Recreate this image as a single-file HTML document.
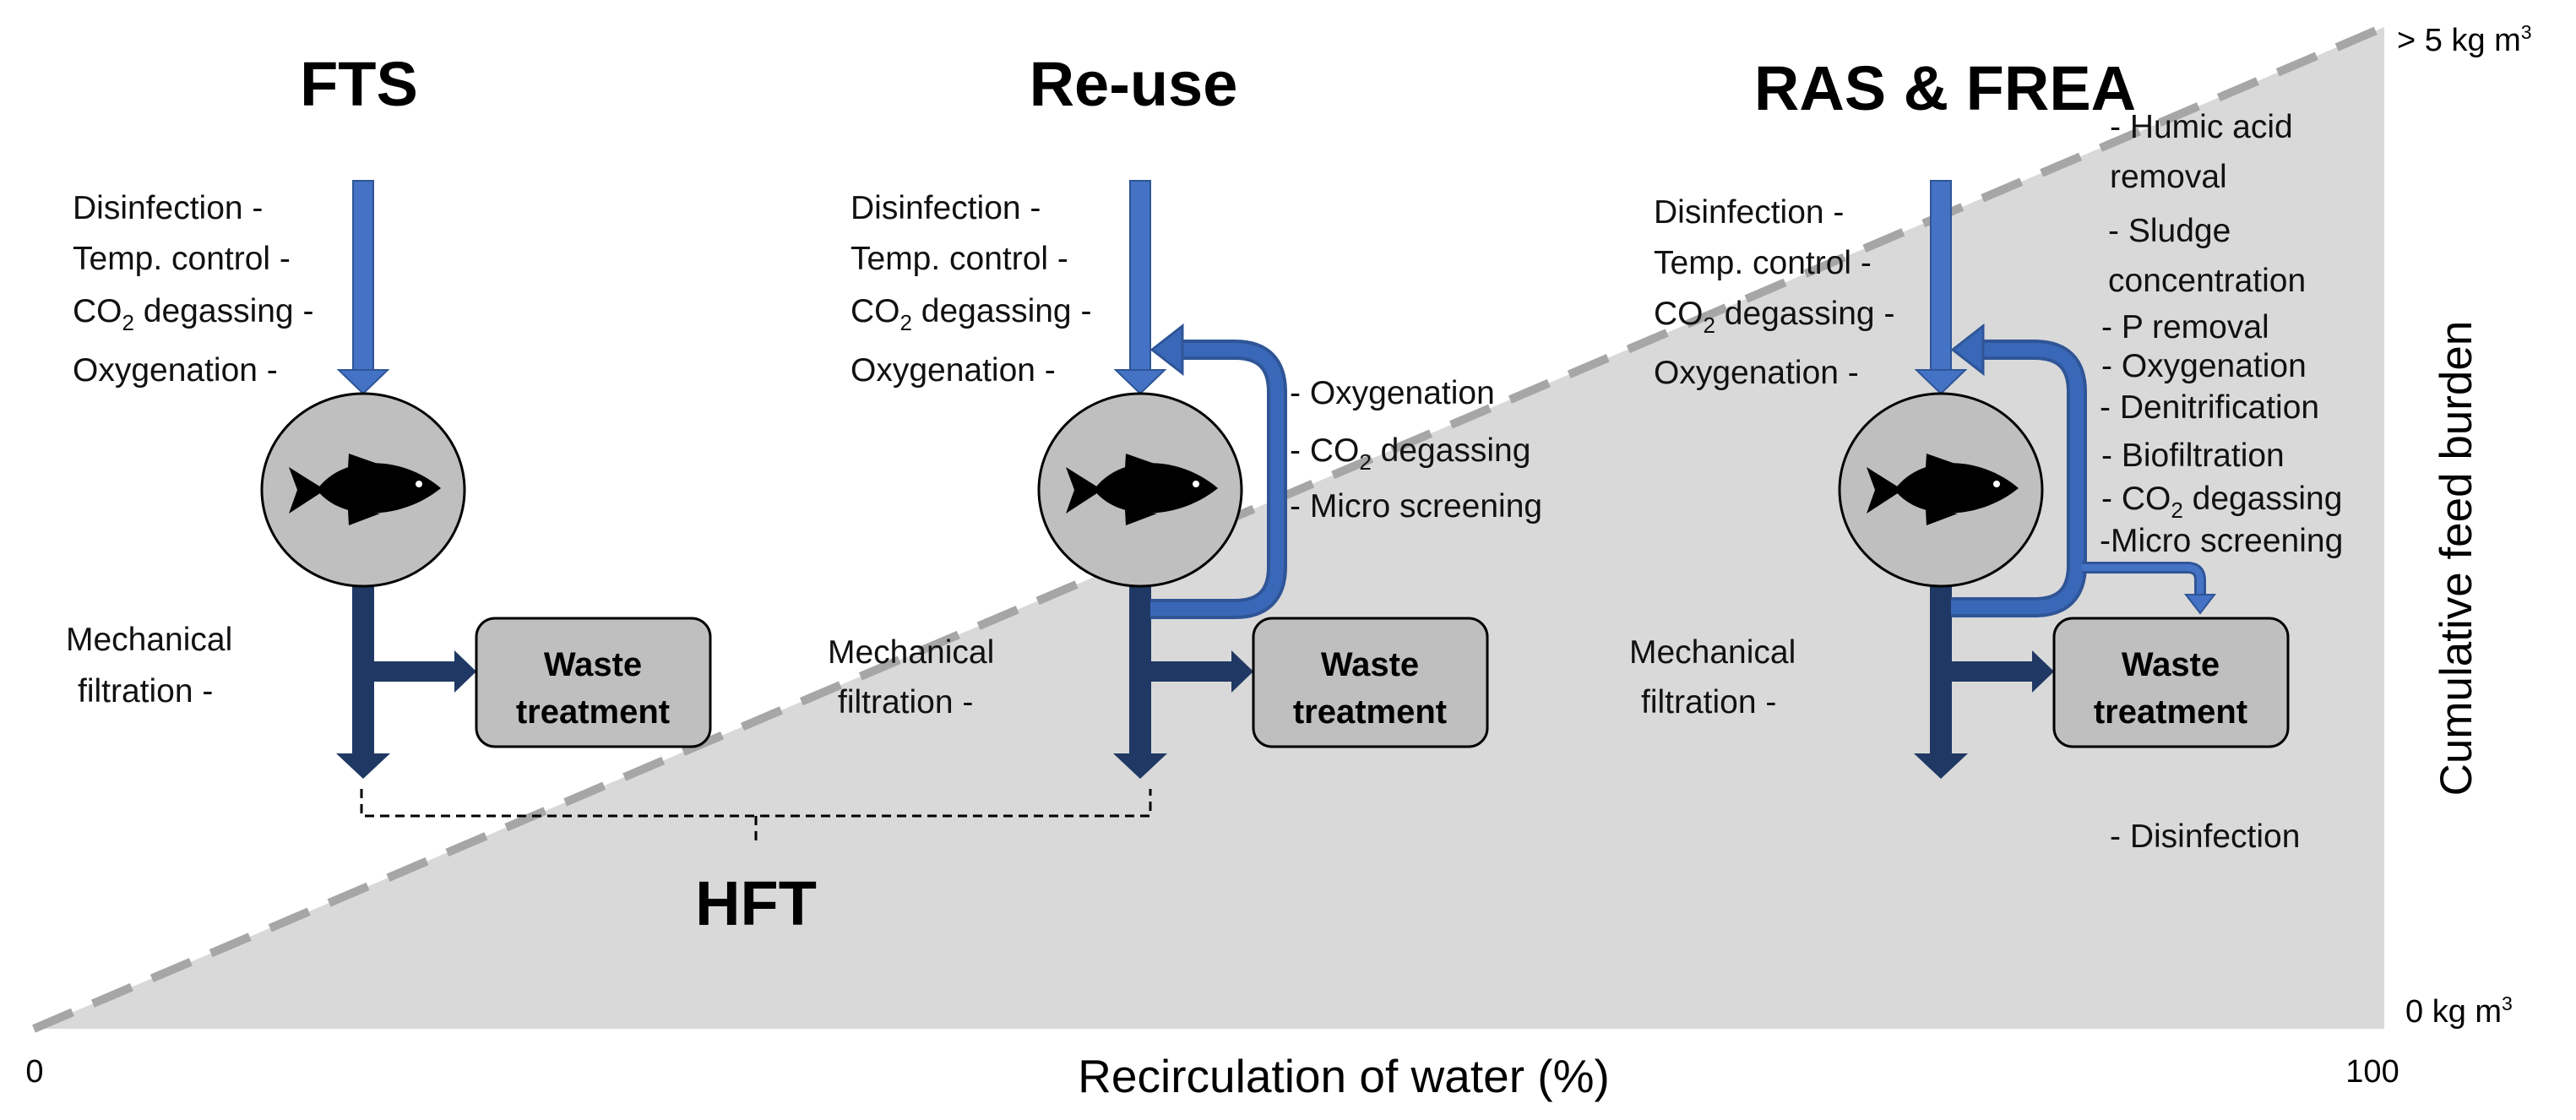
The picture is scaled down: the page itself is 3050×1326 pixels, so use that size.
<!DOCTYPE html>
<html><head><meta charset="utf-8"><style>
html,body{margin:0;padding:0;background:#fff;}
svg{display:block;font-family:"Liberation Sans",sans-serif;}
.l{font-size:39px;fill:#111;}
.t{font-size:74px;font-weight:bold;fill:#000;text-anchor:middle;}
.w{font-size:40px;font-weight:bold;fill:#000;text-anchor:middle;}
</style></head><body>
<svg width="3050" height="1326" viewBox="0 0 3050 1326" xmlns="http://www.w3.org/2000/svg">
<defs>
<g id="fish">
<path d="M-55,0 C-25,-42 45,-42 92,-2 C45,36 -25,38 -55,0 Z" fill="#000"/>
<path d="M-45,0 L-88,-27 L-78,0 L-88,28 Z" fill="#000"/>
<path d="M-18,-26 L-17,-43 L20,-30 Z" fill="#000"/>
<path d="M-18,24 L-17,42 L20,28 Z" fill="#000"/>
<circle cx="66" cy="-7" r="4" fill="#fff"/>
</g>
<g id="unit">
<rect x="-12" y="214" width="24" height="226" fill="#4472c4" stroke="#2f5597" stroke-width="2"/>
<polygon points="-29,438 29,438 0,466" fill="#4472c4" stroke="#2f5597" stroke-width="2"/>
<rect x="-13" y="690" width="26" height="204" fill="#203864"/>
<polygon points="-32,892 32,892 0,922" fill="#203864"/>
<rect x="10" y="783" width="100" height="24" fill="#203864"/>
<polygon points="108,770 108,820 134,795" fill="#203864"/>
<ellipse cx="0" cy="580" rx="120" ry="114" fill="#bfbfbf" stroke="#000" stroke-width="3"/>
<use href="#fish" x="0" y="580"/>
<rect x="134" y="732" width="277" height="152" rx="22" fill="#bfbfbf" stroke="#000" stroke-width="3"/>
<text class="w" x="272" y="800">Waste</text>
<text class="w" x="272" y="856">treatment</text>
</g>
</defs>
<polygon points="40,1218 2823,32 2823,1218" fill="#d9d9d9"/>
<line x1="40" y1="1218" x2="2823" y2="32" stroke="#a6a6a6" stroke-width="10" stroke-dasharray="50,26"/>

<text class="t" x="425" y="125">FTS</text>
<text class="t" x="1342" y="125">Re-use</text>
<text class="t" x="2303" y="130">RAS &amp; FREA</text>

<use href="#unit" x="430" y="0"/>
<use href="#unit" x="1350" y="0"/>
<use href="#unit" x="2298" y="0"/>

<path d="M1362 721 H1462 Q1512 721 1512 671 V464 Q1512 414 1462 414 H1398" fill="none" stroke="#2f5597" stroke-width="24"/>
<path d="M1362 721 H1462 Q1512 721 1512 671 V464 Q1512 414 1462 414 H1398" fill="none" stroke="#3a68b8" stroke-width="16"/>
<polygon points="1364,414 1400,386 1400,442" fill="#3a68b8" stroke="#2f5597" stroke-width="3"/>

<path d="M2310 719 H2409 Q2459 719 2459 669 V464 Q2459 414 2409 414 H2346" fill="none" stroke="#2f5597" stroke-width="24"/>
<path d="M2310 719 H2409 Q2459 719 2459 669 V464 Q2459 414 2409 414 H2346" fill="none" stroke="#3a68b8" stroke-width="16"/>
<polygon points="2312,414 2348,386 2348,442" fill="#3a68b8" stroke="#2f5597" stroke-width="3"/>
<path d="M2465 672 H2590 Q2605 672 2605 687 V706" fill="none" stroke="#2f5597" stroke-width="14"/>
<path d="M2465 672 H2590 Q2605 672 2605 687 V706" fill="none" stroke="#4472c4" stroke-width="8"/>
<polygon points="2588,704 2622,704 2605,726" fill="#4472c4" stroke="#2f5597" stroke-width="2"/>

<text class="l" x="86" y="259">Disinfection -</text>
<text class="l" x="86" y="319">Temp. control -</text>
<text class="l" x="86" y="381">CO<tspan font-size="26" dy="10">2</tspan><tspan dy="-10"> degassing -</tspan></text>
<text class="l" x="86" y="451">Oxygenation -</text>
<text class="l" x="78" y="770">Mechanical</text>
<text class="l" x="92" y="831">filtration -</text>

<text class="l" x="1007" y="259">Disinfection -</text>
<text class="l" x="1007" y="319">Temp. control -</text>
<text class="l" x="1007" y="381">CO<tspan font-size="26" dy="10">2</tspan><tspan dy="-10"> degassing -</tspan></text>
<text class="l" x="1007" y="451">Oxygenation -</text>
<text class="l" x="980" y="785">Mechanical</text>
<text class="l" x="992" y="844">filtration -</text>
<text class="l" x="1527" y="478">- Oxygenation</text>
<text class="l" x="1527" y="546">- CO<tspan font-size="26" dy="10">2</tspan><tspan dy="-10"> degassing</tspan></text>
<text class="l" x="1527" y="612">- Micro screening</text>

<text class="l" x="1958" y="264">Disinfection -</text>
<text class="l" x="1958" y="324">Temp. control -</text>
<text class="l" x="1958" y="384">CO<tspan font-size="26" dy="10">2</tspan><tspan dy="-10"> degassing -</tspan></text>
<text class="l" x="1958" y="454">Oxygenation -</text>
<text class="l" x="1929" y="785">Mechanical</text>
<text class="l" x="1943" y="844">filtration -</text>
<text class="l" x="2498" y="163">- Humic acid</text>
<text class="l" x="2498" y="222">removal</text>
<text class="l" x="2496" y="286">- Sludge</text>
<text class="l" x="2496" y="345">concentration</text>
<text class="l" x="2488" y="400">- P removal</text>
<text class="l" x="2488" y="446">- Oxygenation</text>
<text class="l" x="2486" y="495">- Denitrification</text>
<text class="l" x="2488" y="552">- Biofiltration</text>
<text class="l" x="2488" y="603">- CO<tspan font-size="26" dy="10">2</tspan><tspan dy="-10"> degassing</tspan></text>
<text class="l" x="2486" y="653">-Micro screening</text>
<text class="l" x="2498" y="1003">- Disinfection</text>

<path d="M428 934 V966 H1362 V934 M895 966 V1000" fill="none" stroke="#000" stroke-width="3" stroke-dasharray="11,7"/>
<text class="t" x="895" y="1095">HFT</text>

<text x="41" y="1281" font-size="38" text-anchor="middle">0</text>
<text x="2809" y="1281" font-size="38" text-anchor="middle">100</text>
<text x="1591" y="1293" font-size="55" text-anchor="middle">Recirculation of water (%)</text>
<text x="2838" y="60" font-size="38">&gt; 5 kg m<tspan font-size="23" dy="-14">3</tspan></text>
<text x="2848" y="1210" font-size="38">0 kg m<tspan font-size="23" dy="-14">3</tspan></text>
<text x="0" y="0" font-size="53" text-anchor="middle" transform="translate(2926,661) rotate(-90)">Cumulative feed burden</text>
</svg>
</body></html>
